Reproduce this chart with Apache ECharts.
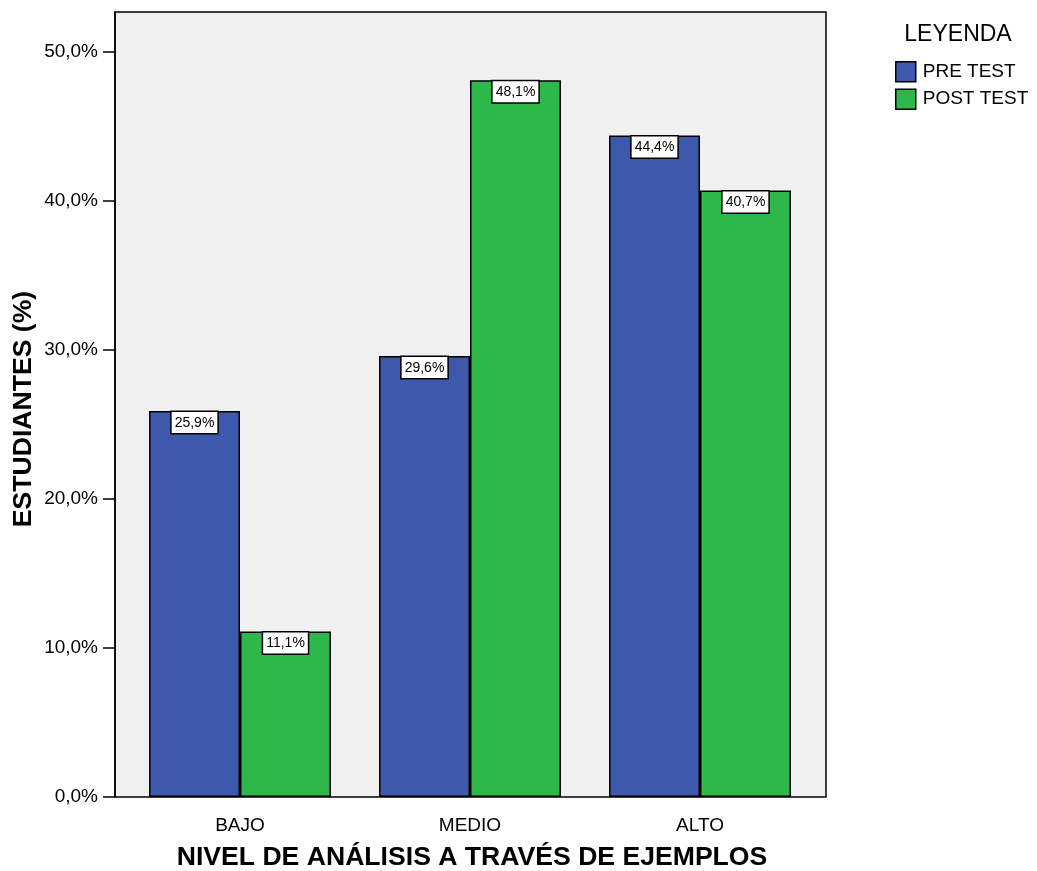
<!DOCTYPE html>
<html>
<head>
<meta charset="utf-8">
<script src="https://cdn.jsdelivr.net/npm/echarts@6/dist/echarts.min.js"></script>
<style>
html,body{margin:0;padding:0;background:#fff;}
#main{width:1037px;height:871px;}
</style>
</head>
<body>
<div id="main"></div>
<script>
const categories = ['BAJO', 'MEDIO', 'ALTO'];
const preTest = [25.9, 29.6, 44.4];
const postTest = [11.1, 48.1, 40.7];
const seriesNames = ['PRE TEST', 'POST TEST'];
const yTicks = [0, 10, 20, 30, 40, 50];

const FONT = '"Liberation Sans", Arial, sans-serif';
const chart = echarts.init(document.getElementById('main'), null, {renderer: 'canvas'});

function fmt(v) {
  return v.toFixed(1).replace('.', ',') + '%';
}

const labelStyle = {
  show: true,
  position: 'insideTop',
  distance: 1,
  formatter: p => fmt(p.value),
  fontFamily: FONT,
  fontSize: 14,
  color: '#000',
  backgroundColor: '#fff',
  borderColor: '#000',
  borderWidth: 1.5,
  padding: [4, 3, 3, 3]
};

chart.setOption({
  animation: false,
  backgroundColor: '#fff',
  textStyle: {fontFamily: FONT},
  grid: {
    left: 125, top: 12, width: 690, height: 785, show: false
  },
  legend: {
    orient: 'vertical',
    left: 895, top: 61, padding: 0,
    itemWidth: 20, itemHeight: 20, itemGap: 6,
    icon: 'rect',
    data: seriesNames,
    textStyle: {fontFamily: FONT, fontSize: 19, color: '#000', padding: [0, 0, 0, 2]},
    itemStyle: {borderColor: '#000', borderWidth: 1.5}
  },
  xAxis: {
    type: 'category',
    data: categories,
    axisLine: {show: false},
    axisTick: {alignWithLabel: true, length: 12, lineStyle: {color: '#000', width: 1.5}},
    axisLabel: {fontFamily: FONT, fontSize: 19, color: '#000', margin: 19}
  },
  yAxis: {
    type: 'value',
    min: 0, max: 52.68, interval: 10,
    offset: 10,
    splitLine: {show: false},
    axisLine: {show: true, lineStyle: {color: '#000', width: 1.5}},
    axisTick: {show: true, length: 12, lineStyle: {color: '#000', width: 1.5},
      customValues: yTicks},
    axisLabel: {fontFamily: FONT, fontSize: 19, color: '#000', margin: 17,
      customValues: yTicks, formatter: v => fmt(v)}
  },
  series: [
    {
      name: seriesNames[0], type: 'bar', data: preTest,
      barWidth: 91, barGap: '0%',
      itemStyle: {color: '#3e58ac', borderColor: '#000', borderWidth: 1.5},
      label: labelStyle
    },
    {
      name: seriesNames[1], type: 'bar', data: postTest,
      barWidth: 91, barGap: '0%',
      itemStyle: {color: '#2eb84a', borderColor: '#000', borderWidth: 1.5},
      label: labelStyle
    }
  ],
  graphic: [
    {
      type: 'rect', z: -10,
      shape: {x: 115, y: 12, width: 711, height: 785},
      style: {fill: '#f0f0f0', stroke: null}
    },
    {
      type: 'rect', z: 100, silent: true,
      shape: {x: 115, y: 12, width: 711, height: 785},
      style: {fill: 'none', stroke: '#000', lineWidth: 1.5}
    },
    {
      type: 'text',
      x: 472, y: 858,
      style: {
        text: 'NIVEL DE ANÁLISIS A TRAVÉS DE EJEMPLOS',
        fontFamily: FONT, fontSize: 26.6, fontWeight: 'bold', fill: '#000',
        align: 'center', verticalAlign: 'middle'
      }
    },
    {
      type: 'text',
      x: 24, y: 409, rotation: Math.PI / 2,
      style: {
        text: 'ESTUDIANTES (%)',
        fontFamily: FONT, fontSize: 26.6, fontWeight: 'bold', fill: '#000',
        align: 'center', verticalAlign: 'middle'
      }
    },
    {
      type: 'text',
      x: 958, y: 35,
      style: {
        text: 'LEYENDA',
        fontFamily: FONT, fontSize: 23, fill: '#000',
        align: 'center', verticalAlign: 'middle'
      }
    }
  ]
});
</script>
</body>
</html>
